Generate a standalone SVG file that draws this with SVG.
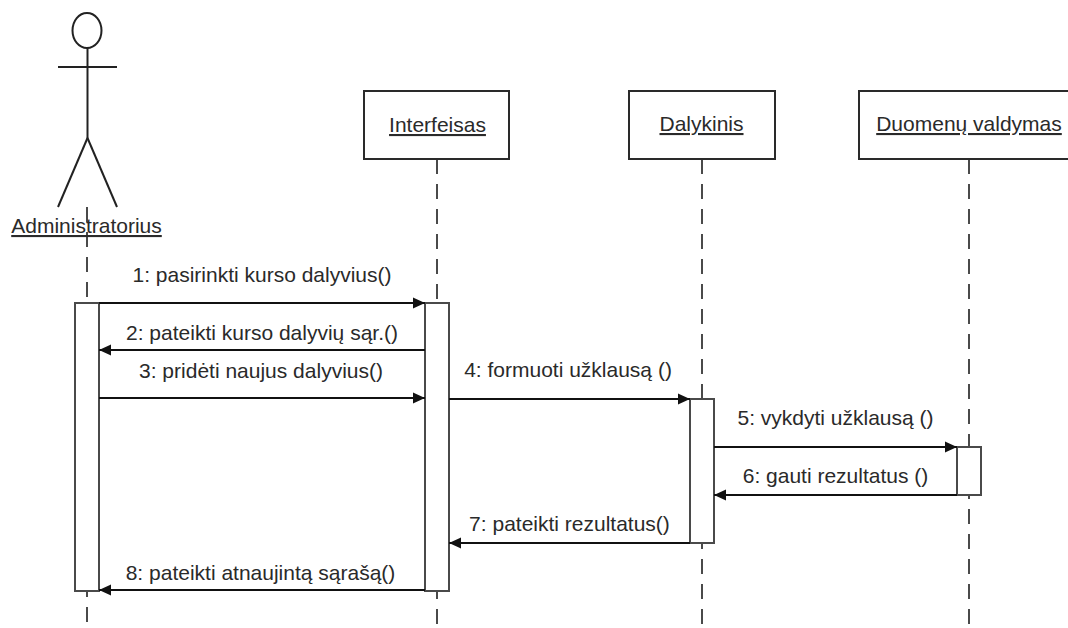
<svg xmlns="http://www.w3.org/2000/svg" width="1068" height="628" viewBox="0 0 1068 628">
<style>
  .txt { font-family: "Liberation Sans", Arial, sans-serif; font-size: 21px; fill: #2a2a2a; }
  .lbl { text-anchor: middle; }
  .ul { text-decoration: underline; }
  .box { fill: #ffffff; stroke: #2a2a2a; stroke-width: 2; }
  .act { fill: #ffffff; stroke: #4a4a4a; stroke-width: 2; }
  .life { stroke: #4a4a4a; stroke-width: 2; stroke-dasharray: 15 10; fill: none; }
  .msg { stroke: #111111; stroke-width: 1.8; fill: none; marker-end: url(#arrow); }
  .actor { stroke: #222222; stroke-width: 2; fill: none; }
</style>
<defs>
  <marker id="arrow" markerUnits="userSpaceOnUse" markerWidth="13" markerHeight="12" refX="12" refY="6" orient="auto">
    <path d="M0,0.5 L12,6 L0,11.5 z" fill="#111111"/>
  </marker>
</defs>
<rect x="0" y="0" width="1068" height="628" fill="#ffffff"/>

<g id="lifelines">
  <line class="life" x1="87" y1="207" x2="87" y2="628"/>
  <line class="life" x1="437" y1="159" x2="437" y2="628"/>
  <line class="life" x1="702" y1="159" x2="702" y2="628"/>
  <line class="life" x1="969" y1="159" x2="969" y2="628"/>
</g>

<g id="administratorius">
  <ellipse class="actor" cx="87" cy="30.5" rx="14.5" ry="17.5"/>
  <line class="actor" x1="58" y1="67" x2="117" y2="67"/>
  <line class="actor" x1="87.5" y1="48" x2="87.5" y2="138"/>
  <line class="actor" x1="87.5" y1="138" x2="58" y2="207"/>
  <line class="actor" x1="87.5" y1="138" x2="117" y2="207"/>
  <text class="txt lbl ul" x="86.5" y="233">Administratorius</text>
</g>

<g id="interfeisas">
  <rect class="box" x="364" y="91" width="145" height="68"/>
  <text class="txt lbl ul" x="437.5" y="132">Interfeisas</text>
</g>

<g id="dalykinis">
  <rect class="box" x="629" y="91" width="146" height="68"/>
  <text class="txt lbl ul" x="701.5" y="131">Dalykinis</text>
</g>

<g id="duomenu-valdymas">
  <rect class="box" x="859" y="91" width="218" height="68"/>
  <text class="txt lbl ul" x="969" y="131">Duomenų valdymas</text>
</g>

<g id="activations">
  <rect class="act" x="75" y="303" width="24" height="288"/>
  <rect class="act" x="425" y="303" width="24" height="288"/>
  <rect class="act" x="690" y="399" width="24" height="144"/>
  <rect class="act" x="957" y="447" width="24" height="48"/>
</g>

<g id="connectors">
  <line class="msg" x1="99" y1="303" x2="425" y2="303"/>
  <line class="msg" x1="425" y1="350" x2="99" y2="350"/>
  <line class="msg" x1="99" y1="398" x2="425" y2="398"/>
  <line class="msg" x1="449" y1="399" x2="690" y2="399"/>
  <line class="msg" x1="714" y1="447" x2="957" y2="447"/>
  <line class="msg" x1="957" y1="495" x2="714" y2="495"/>
  <line class="msg" x1="690" y1="543" x2="449" y2="543"/>
  <line class="msg" x1="425" y1="590" x2="99" y2="590"/>
</g>

<g id="message-labels">
  <text class="txt lbl" x="262" y="282">1: pasirinkti kurso dalyvius()</text>
  <text class="txt lbl" x="262" y="340">2: pateikti kurso dalyvių sąr.()</text>
  <text class="txt lbl" x="261" y="378">3: pridėti naujus dalyvius()</text>
  <text class="txt lbl" x="568" y="377">4: formuoti užklausą ()</text>
  <text class="txt lbl" x="835.5" y="425">5: vykdyti užklausą ()</text>
  <text class="txt lbl" x="835.5" y="483">6: gauti rezultatus ()</text>
  <text class="txt lbl" x="569.5" y="531">7: pateikti rezultatus()</text>
  <text class="txt lbl" x="260.5" y="580">8: pateikti atnaujintą sąrašą()</text>
</g>
</svg>
